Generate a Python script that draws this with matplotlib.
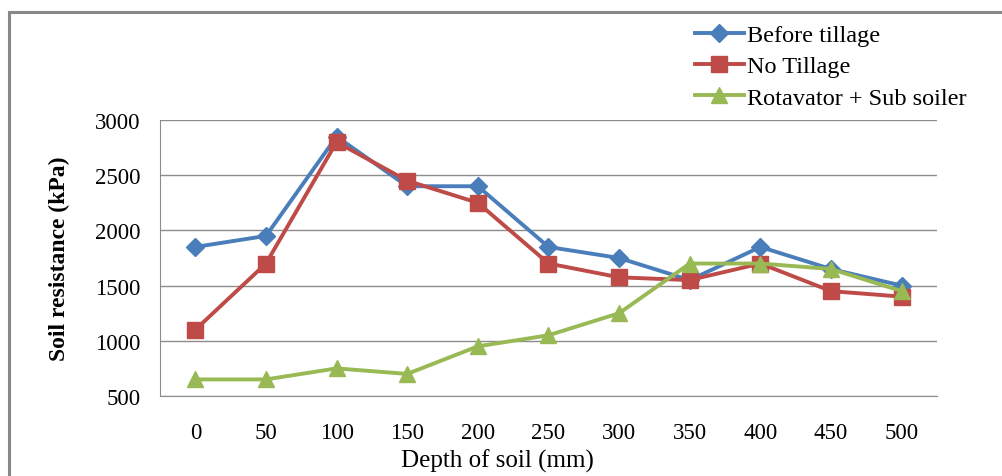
import numpy as np
from matplotlib import pyplot as plt
from matplotlib.lines import Line2D

depth = ['0', '50', '100', '150', '200', '250', '300', '350', '400', '450', '500']
before_tillage = [1850, 1950, 2850, 2400, 2400, 1850, 1750, 1550, 1850, 1650, 1500]
no_tillage = [1100, 1700, 2800, 2450, 2250, 1700, 1575, 1550, 1700, 1450, 1400]
rotavator_sub = [650, 650, 750, 700, 950, 1050, 1250, 1700, 1700, 1650, 1450]
series_names = ['Before tillage', 'No Tillage', 'Rotavator + Sub soiler']
y_ticks = [500, 1000, 1500, 2000, 2500, 3000]

plt.rcParams['font.family'] = ['Liberation Serif', 'DejaVu Serif']

W, H = 1003, 477
fig = plt.figure(figsize=(W / 100, H / 100), dpi=100)

# outer chart frame (left and top edges visible)
fig.add_artist(Line2D([9 / W, 9 / W], [0, 1 - 13 / H], color='#888888', lw=2.2))
fig.add_artist(Line2D([9 / W, 1], [1 - 13 / H, 1 - 13 / H], color='#888888', lw=2.2))

ax = fig.add_axes([160 / W, 1 - 397 / H, (937 - 160) / W, (397 - 121) / H])

x = np.arange(len(depth))
colors = ['#4A7EBB', '#BE4B48', '#98B954']
markers = ['D', 's', '^']
msizes = [9.5, 11, 11]
handles = []
for vals, c, m, ms, name in zip([before_tillage, no_tillage, rotavator_sub],
                                colors, markers, msizes, series_names):
    h, = ax.plot(x, vals, color=c, lw=2.8, marker=m, ms=ms, label=name)
    handles.append(h)

ax.set_xlim(-0.5, len(depth) - 0.5)
ax.set_ylim(500, 3000)
ax.set_yticks(y_ticks)
ax.set_xticks(x)
ax.set_xticklabels(depth)
ax.tick_params(length=0, labelsize=16.5)
ax.tick_params(axis='x', pad=19)
ax.tick_params(axis='y', pad=14)
ax.grid(axis='y', color='#8c8c8c', lw=1)
ax.set_axisbelow(True)
for s in ['top', 'right']:
    ax.spines[s].set_visible(False)
for s in ['left', 'bottom']:
    ax.spines[s].set_color('#8c8c8c')

ax.set_xlabel('Depth of soil (mm)', fontsize=18)
ax.xaxis.set_label_coords((497 - 160) / 777, (397 - 450) / 276)
ax.set_ylabel('Soil resistance (kPa)', fontsize=17, fontweight='bold', labelpad=18)

fig.legend(handles=handles, loc='upper left', bbox_to_anchor=(683 / W, 1 - 13 / H),
           frameon=False, fontsize=17.5, handlelength=2.0, handletextpad=0.12,
           labelspacing=0.38, borderpad=0)

fig.savefig('out.png', dpi=100)
